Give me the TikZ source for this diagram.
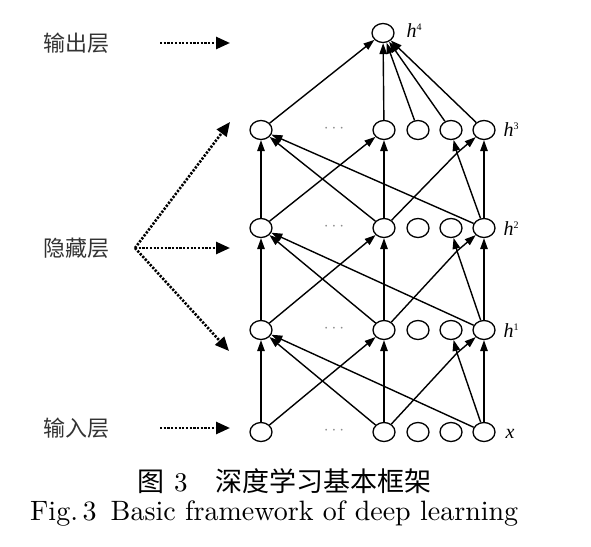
\documentclass[tikz,border=0pt]{standalone}
\usepackage{fontspec}
\newfontfamily\cjk{Noto Sans CJK SC}
\newfontfamily\capfont{lmroman10-regular.otf}
\newfontfamily\tms{Liberation Serif}
\usetikzlibrary{shapes.geometric,arrows.meta}
\newcommand{\hlab}[2]{{\tms\itshape #1}\raisebox{7pt}{\tms\fontsize{10}{10}\selectfont #2}}
\begin{document}
\begin{tikzpicture}[x=1pt,y=-1pt,
  neuron/.style={draw,ellipse,line width=1.3pt,minimum width=22pt,minimum height=19pt,inner sep=0pt},
  edge/.style={line width=1.4pt,-{Triangle[length=11pt,width=7.5pt]}},
  plain/.style={line width=1.4pt},
  lead/.style={line width=2.6pt,dash pattern=on 2.2pt off 1.5pt,-{Triangle[length=14pt,width=12pt]}},
  lbl/.style={font=\cjk\fontsize{22}{22}\selectfont,text=black!80},
  hl/.style={font=\tms\fontsize{20}{20}\selectfont},
  dotsl/.style={text=black!45,font=\fontsize{18}{18}\selectfont}
]
\useasboundingbox (0,0) rectangle (591,546);
% output node
\node[neuron] (top) at (383,33) {};
% layers
\foreach \r/\y in {0/432,1/330,2/228,3/130}{
  \node[neuron] (n\r a) at (261,\y) {};
  \node[neuron] (n\r b) at (384,\y) {};
  \node[neuron] (n\r c) at (418,\y) {};
  \node[neuron] (n\r d) at (451,\y) {};
  \node[neuron] (n\r e) at (484,\y) {};
  \node[dotsl] (dots\r) at (334,\y-1) {$\cdots$};
  \coordinate (j\r) at (457,\y+23);
}
% labels
\node[hl,anchor=west] (l4) at (403,31) {\hlab{h}{4}};
\node[hl,anchor=west] (l3) at (500,130) {\hlab{h}{3}};
\node[hl,anchor=west] (l2) at (500,229) {\hlab{h}{2}};
\node[hl,anchor=west] (l1) at (500,331) {\hlab{h}{1}};
\node[hl,anchor=west] (l0) at (502,434) {\hlab{x}{}};
% connections between layers
\foreach \l/\u in {0/1,1/2,2/3}{
  \draw[edge] (n\l a) -- (n\u a);
  \draw[edge] (n\l a) -- (n\u b);
  \draw[edge] (n\l b) -- (n\u a);
  \draw[edge] (n\l b) -- (n\u b);
  \draw[edge] (n\l e) -- (n\u a);
  \draw[edge] (n\l e) -- (n\u e);
  \draw[plain] (n\l b) -- (j\u);
  \draw[plain] (n\l e) -- (j\u);
  \draw[edge] (j\u) -- (n\u d);
  \draw[edge] (j\u) -- (n\u e);
}
% to output
\foreach \c in {a,b,c,d,e}{
  \draw[edge] (n3\c) -- (top);
}
% left labels
\node[lbl] (out) at (76,43) {输出层};
\node[lbl] (hid) at (76,248) {隐藏层};
\node[lbl] (inp) at (76,428) {输入层};
\coordinate (s4) at (160,43);
\coordinate (e4) at (230,43);
\coordinate (sh) at (135,248);
\coordinate (eh3) at (230,122);
\coordinate (eh2) at (230,248);
\coordinate (eh1) at (229,351);
\coordinate (s0) at (160,428);
\coordinate (e0) at (230,428);
\draw[lead] (s4) -- (e4);
\draw[lead] (sh) -- (eh3);
\draw[lead] (sh) -- (eh2);
\draw[lead] (sh) -- (eh1);
\draw[lead] (s0) -- (e0);
% captions
\node[anchor=base west,inner sep=0pt] (cap1) at (137,491)
  {\fontsize{27}{27}\selectfont{\cjk 图}\hspace{10pt}{\capfont 3}\hspace{28pt}{\cjk 深度学习基本框架}};
\node[anchor=base west,inner sep=0pt] (cap2) at (30,520)
  {\capfont\fontsize{28}{28}\selectfont Fig.\,3\hspace{14pt}Basic framework of deep learning};
\end{tikzpicture}
\end{document}
